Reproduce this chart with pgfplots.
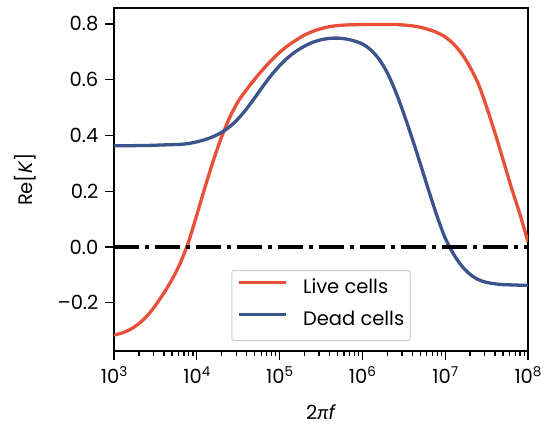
\documentclass[border=0pt]{standalone}
\usepackage{fontspec}
\setmainfont{Poppins}
\newfontfamily\latofont{Lato}
\usepackage{pgfplots}
\usepackage{pgfplotstable}
\pgfplotsset{compat=1.18}
\definecolor{livered}{RGB}{232,80,58}
\definecolor{deadblue}{RGB}{59,84,140}
\newcommand\ex[1]{\raisebox{7bp}{\fontsize{13.5bp}{14bp}\selectfont #1}}

\pgfplotstableread{
x red blue
1000 -0.316 0.363
1259 -0.308 0.363
1585 -0.295 0.363
1995 -0.275 0.364
2512 -0.247 0.364
3162 -0.210 0.365
3981 -0.166 0.366
5012 -0.117 0.367
6310 -0.058 0.368
7943 0.018 0.371
1.0e4 0.115 0.377
1.259e4 0.215 0.385
1.585e4 0.310 0.396
1.995e4 0.395 0.411
2.512e4 0.466 0.432
3.162e4 0.522 0.460
3.981e4 0.564 0.495
5.012e4 0.602 0.535
6.310e4 0.637 0.577
7.943e4 0.669 0.616
1.0e5 0.698 0.650
1.259e5 0.722 0.679
1.585e5 0.742 0.702
1.995e5 0.760 0.720
2.512e5 0.773 0.734
3.162e5 0.783 0.743
3.981e5 0.790 0.748
5.012e5 0.794 0.749
6.310e5 0.796 0.746
7.943e5 0.797 0.739
1.0e6 0.798 0.728
1.259e6 0.798 0.707
1.585e6 0.798 0.674
1.995e6 0.798 0.625
2.512e6 0.798 0.558
3.162e6 0.796 0.478
3.981e6 0.793 0.390
5.012e6 0.788 0.298
6.310e6 0.780 0.203
7.943e6 0.769 0.112
1.0e7 0.753 0.032
1.259e7 0.728 -0.025
1.585e7 0.693 -0.068
1.995e7 0.645 -0.098
2.512e7 0.585 -0.117
3.162e7 0.502 -0.127
3.981e7 0.410 -0.132
5.012e7 0.312 -0.135
6.310e7 0.212 -0.136
7.943e7 0.120 -0.137
1.0e8 0.018 -0.137
}\datatable

\begin{document}
\fontsize{19.5bp}{23bp}\selectfont
\begin{tikzpicture}
\path[use as bounding box] (-114bp,-76bp) rectangle (430bp,351bp);
\begin{axis}[
  at={(0,0)}, anchor=south west,
  scale only axis, width=414bp, height=343bp,
  xmode=log, xmin=1e3, xmax=1e8, ymin=-0.373, ymax=0.857,
  axis line style={line width=1.6bp},
  tick style={line width=1.3bp, black},
  major tick length=9bp, minor tick length=5bp,
  tick align=outside, xtick pos=bottom, ytick pos=left,
  xtick={1e3,1e4,1e5,1e6,1e7,1e8},
  xticklabels={10\ex{3},10\ex{4},10\ex{5},10\ex{6},10\ex{7},10\ex{8}},
  minor xtick={2e3,3e3,4e3,5e3,6e3,7e3,8e3,9e3,2e4,3e4,4e4,5e4,6e4,7e4,8e4,9e4,2e5,3e5,4e5,5e5,6e5,7e5,8e5,9e5,2e6,3e6,4e6,5e6,6e6,7e6,8e6,9e6,2e7,3e7,4e7,5e7,6e7,7e7,8e7,9e7},
  ytick={-0.2,0,0.2,0.4,0.6,0.8},
  yticklabels={–0.2,0.0,0.2,0.4,0.6,0.8},
  ticklabel style={font=\fontsize{19.5bp}{23bp}\selectfont},
  legend style={at={(0.5,0)}, anchor=south, yshift=10bp,
    draw=black!20, line width=1bp, rounded corners=2bp,
    fill=white, fill opacity=0.8, text opacity=1,
    inner xsep=6bp, inner ysep=3bp, row sep=0bp, column sep=15bp,
    font=\fontsize{19.5bp}{23bp}\selectfont,
    nodes={inner xsep=0bp, inner ysep=8bp, text height=12bp, text depth=4bp}},
  legend cell align=left,
  legend image code/.code={\draw[#1] (0bp,7bp) -- (47bp,7bp);},
]
\addplot[livered, line width=3.3bp, smooth, tension=0.5] table[x=x, y=red] {\datatable};
\addlegendentry{Live cells}
\addplot[deadblue, line width=3.3bp, smooth, tension=0.5] table[x=x, y=blue] {\datatable};
\addlegendentry{Dead cells}
\addplot[black, line width=3.3bp, dash pattern=on 25bp off 6bp on 4bp off 6bp, forget plot] coordinates {(1e3,0) (1e8,0)};
\end{axis}
\node[rotate=90, anchor=base] at (-81bp,171.5bp) {Re[\textit{K}]};
\node[anchor=base] at (207bp,-68bp) {2{\latofont\itshape π}\textit{f}};
\end{tikzpicture}
\end{document}
